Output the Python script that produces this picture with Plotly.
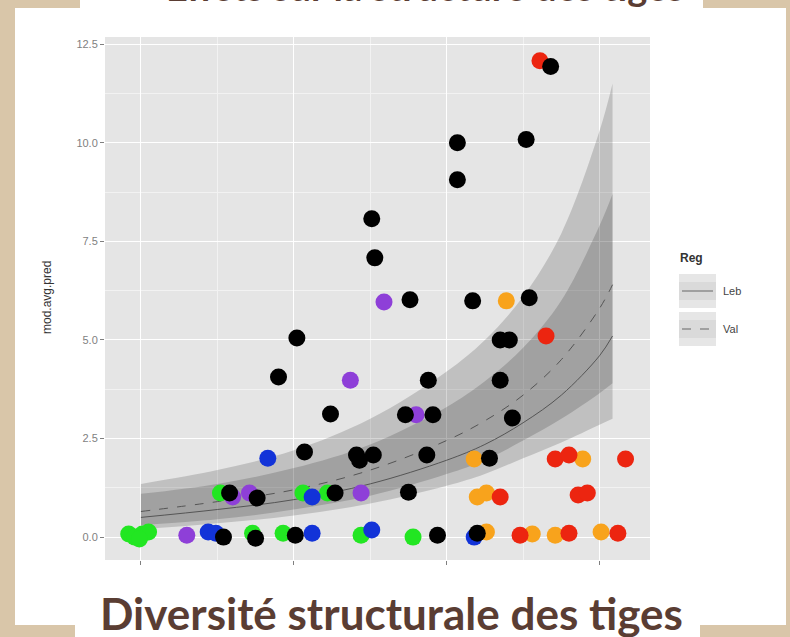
import plotly.graph_objects as go

# ---------------- data ----------------
green_x = [0.92, 0.96, 1.01, 1.05, 0.99, 1.52, 1.73, 1.93, 2.06, 2.22, 2.44, 2.78]
green_y = [0.08, 0.00, 0.08, 0.13, -0.05, 1.12, 0.10, 0.10, 1.12, 1.12, 0.05, 0.00]

blue_x = [1.44, 1.49, 1.83, 2.12, 2.12, 2.51, 3.18]
blue_y = [0.13, 0.10, 2.00, 1.02, 0.10, 0.18, 0.00]

purple_x = [1.30, 1.60, 1.71, 2.44, 2.37, 2.59, 2.80]
purple_y = [0.05, 1.02, 1.12, 1.12, 3.98, 5.96, 3.10]

orange_x = [3.39, 3.18, 3.20, 3.26, 3.26, 3.56, 3.71, 3.89, 4.01]
orange_y = [5.99, 1.98, 1.02, 1.12, 0.13, 0.08, 0.05, 1.98, 0.13]

red_x = [3.61, 3.65, 3.71, 3.80, 4.17, 3.35, 3.86, 3.92, 3.48, 3.80, 4.12]
red_y = [12.08, 5.10, 1.98, 2.08, 1.98, 1.02, 1.07, 1.12, 0.05, 0.10, 0.10]

black_x = [3.68, 3.52, 3.07, 3.07, 2.51, 2.53, 2.76, 3.17, 3.54, 2.02, 3.35, 3.41,
           1.90, 2.88, 3.35, 2.24, 2.73, 2.91, 3.43, 2.07, 2.41, 2.43, 2.52, 2.87,
           3.28, 1.58, 1.76, 2.27, 2.75, 1.54, 1.75, 2.01, 2.94, 3.20]
black_y = [11.93, 10.08, 10.00, 9.06, 8.07, 7.08, 6.02, 5.99, 6.07, 5.05, 5.00, 5.00,
           4.06, 3.98, 3.98, 3.12, 3.10, 3.10, 3.02, 2.16, 2.08, 1.95, 2.08, 2.08,
           2.00, 1.12, 0.99, 1.12, 1.14, 0.00, -0.03, 0.05, 0.05, 0.10]

curve_x = [1.0, 1.5, 2.0, 2.5, 3.0, 3.25, 3.5, 3.75, 4.0, 4.085]
leb_fit = [0.50, 0.70, 0.95, 1.35, 1.95, 2.35, 2.90, 3.60, 4.60, 5.10]
leb_lo = [0.20, 0.35, 0.55, 0.85, 1.30, 1.60, 2.00, 2.40, 2.85, 3.00]
leb_hi = [1.10, 1.35, 1.75, 2.35, 3.30, 3.95, 4.80, 6.00, 7.90, 8.70]
val_fit = [0.65, 0.90, 1.20, 1.70, 2.45, 2.95, 3.60, 4.50, 5.80, 6.40]
val_lo = [0.30, 0.45, 0.70, 1.05, 1.60, 1.95, 2.45, 3.00, 3.65, 3.90]
val_hi = [1.35, 1.70, 2.20, 3.00, 4.20, 5.00, 6.10, 7.70, 10.30, 11.50]

legend_title = "Reg"
legend_labels = ["Leb", "Val"]
y_title = "mod.avg.pred"
bottom_title = "Diversité structurale des tiges"
top_title = "Effets sur la structure des tiges"

# ---------------- layout geometry ----------------
W, H = 790, 637
L, R, T, B = 105, 650, 37, 560  # panel edges in px


def px(xp):
    return (xp - L) / (R - L)


def py(yp):
    return (B - yp) / (B - T)


fig = go.Figure()

# ribbons
for lo, hi in [(leb_lo, leb_hi), (val_lo, val_hi)]:
    fig.add_trace(go.Scatter(x=curve_x, y=lo, mode="lines", line=dict(width=0, shape="spline"),
                             showlegend=False, hoverinfo="skip"))
    fig.add_trace(go.Scatter(x=curve_x, y=hi, mode="lines", line=dict(width=0, shape="spline"),
                             fill="tonexty", fillcolor="rgba(0,0,0,0.16)",
                             showlegend=False, hoverinfo="skip"))

fig.add_trace(go.Scatter(x=curve_x, y=leb_fit, mode="lines",
                         line=dict(color="#555555", width=1, shape="spline"), showlegend=False))
fig.add_trace(go.Scatter(x=curve_x, y=val_fit, mode="lines",
                         line=dict(color="#555555", width=1, dash="dash", shape="spline"), showlegend=False))

groups = [
    (green_x, green_y, "#22E622"),
    (blue_x, blue_y, "#1233D8"),
    (purple_x, purple_y, "#8E3FD8"),
    (orange_x, orange_y, "#F8A31C"),
    (red_x, red_y, "#EC2510"),
    (black_x, black_y, "#000000"),
]
for gx, gy, col in groups:
    fig.add_trace(go.Scatter(x=gx, y=gy, mode="markers",
                             marker=dict(color=col, size=17, line=dict(width=0)),
                             showlegend=False))

shapes = []
# white boards over the beige background
shapes.append(dict(type="rect", xref="paper", yref="paper", x0=px(15), x1=px(786), y0=py(625), y1=py(8),
                   fillcolor="white", line=dict(width=0), layer="below"))
shapes.append(dict(type="rect", xref="paper", yref="paper", x0=px(80), x1=px(703), y0=py(12), y1=py(-5),
                   fillcolor="white", line=dict(width=0), layer="below"))
shapes.append(dict(type="rect", xref="paper", yref="paper", x0=px(75), x1=px(700), y0=py(642), y1=py(576),
                   fillcolor="white", line=dict(width=0), layer="below"))
shapes.append(dict(type="rect", xref="paper", yref="paper", x0=0, x1=1, y0=0, y1=1,
                   fillcolor="#E5E5E5", line=dict(width=0), layer="below"))
# legend keys
for i, (yy, dash) in enumerate([(291, "solid"), (329, "dash")]):
    shapes.append(dict(type="rect", xref="paper", yref="paper", x0=px(679), x1=px(716),
                       y0=py(yy + 17), y1=py(yy - 17), fillcolor="#E6E6E6", line=dict(width=0)))
    shapes.append(dict(type="rect", xref="paper", yref="paper", x0=px(679), x1=px(716),
                       y0=py(yy + 9), y1=py(yy - 9), fillcolor="rgba(0,0,0,0.05)", line=dict(width=0)))
    shapes.append(dict(type="line", xref="paper", yref="paper", x0=px(682), x1=px(713),
                       y0=py(yy), y1=py(yy), line=dict(color="#666666", width=1, dash=dash)))

annotations = [
    dict(text="<b>" + legend_title + "</b>", x=px(678), y=py(258), xref="paper", yref="paper",
         showarrow=False, xanchor="left", yanchor="middle",
         font=dict(family="Liberation Sans", size=12, color="#333333")),
    dict(text=legend_labels[0], x=px(721), y=py(291), xref="paper", yref="paper", showarrow=False,
         xanchor="left", yanchor="middle", font=dict(family="Liberation Sans", size=11, color="#444444")),
    dict(text=legend_labels[1], x=px(721), y=py(329), xref="paper", yref="paper", showarrow=False,
         xanchor="left", yanchor="middle", font=dict(family="Liberation Sans", size=11, color="#444444")),
    dict(text=y_title, x=px(47), y=py(298), xref="paper", yref="paper", showarrow=False, textangle=-90,
         xanchor="center", yanchor="middle", font=dict(family="Liberation Sans", size=12, color="#333333")),
    dict(text="<b>" + bottom_title + "</b>", x=px(391), y=py(613), xref="paper", yref="paper",
         showarrow=False, xanchor="center", yanchor="middle",
         font=dict(family="Lato", size=44, color="#5A3D33")),
    dict(text="<b>" + top_title + "</b>", x=px(425), y=py(-14), xref="paper", yref="paper",
         showarrow=False, xanchor="center", yanchor="middle",
         font=dict(family="Lato", size=38, color="#5A3D33")),
]

fig.update_layout(
    width=W, height=H,
    margin=dict(l=L, r=W - R, t=T, b=H - B, pad=0),
    paper_bgcolor="#D9C6A9",
    plot_bgcolor="#E5E5E5",
    shapes=shapes,
    annotations=annotations,
    showlegend=False,
    xaxis=dict(range=[0.765, 4.33], tick0=1, dtick=1, showticklabels=False,
               ticks="outside", ticklen=4, tickcolor="#7F7F7F", tickwidth=1,
               showgrid=True, gridcolor="white", gridwidth=1.2, zeroline=False, showline=False,
               minor=dict(dtick=0.5, tick0=1, showgrid=True, gridcolor="#F2F2F2", gridwidth=0.6)),
    yaxis=dict(range=[-0.58, 12.68], tick0=0, dtick=2.5, tickformat=".1f",
               ticks="outside", ticklen=4, tickcolor="#7F7F7F", tickwidth=1,
               tickfont=dict(family="Liberation Sans", size=11, color="#7F7F7F"),
               showgrid=True, gridcolor="white", gridwidth=1.2, zeroline=False, showline=False,
               minor=dict(dtick=1.25, tick0=0, showgrid=True, gridcolor="#F2F2F2", gridwidth=0.6)),
)

fig.write_html("out.html", config={"displayModeBar": False},
               post_script="document.body.style.margin='0';document.body.style.padding='0';")
